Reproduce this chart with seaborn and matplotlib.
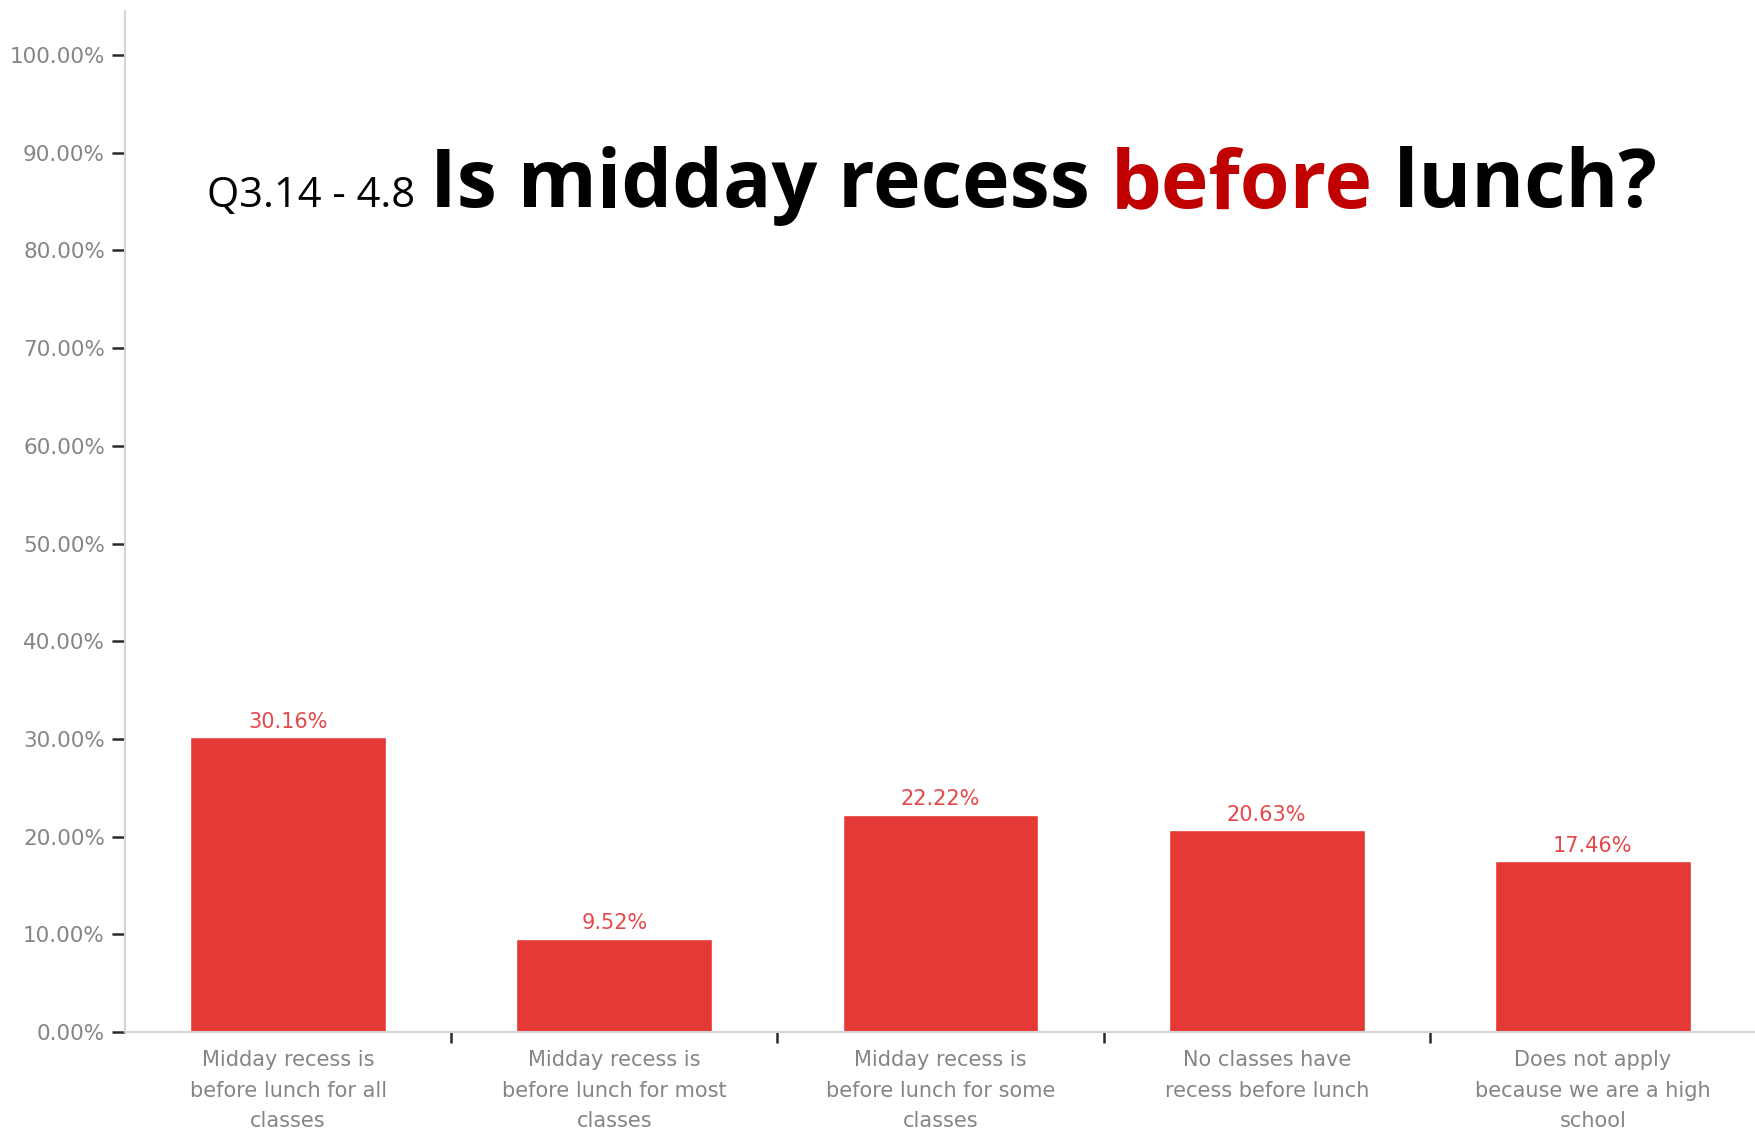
import matplotlib
matplotlib.use("Agg")
import matplotlib.pyplot as plt
import matplotlib.ticker as mticker
import seaborn as sns
import pandas as pd

# Survey responses: share of schools per answer
categories = [
    "Midday recess is\nbefore lunch for all\nclasses",
    "Midday recess is\nbefore lunch for most\nclasses",
    "Midday recess is\nbefore lunch for some\nclasses",
    "No classes have\nrecess before lunch",
    "Does not apply\nbecause we are a high\nschool",
]
percentages = [30.16, 9.52, 22.22, 20.63, 17.46]
y_ticks = [0, 10, 20, 30, 40, 50, 60, 70, 80, 90, 100]

title_prefix = "Q3.14 - 4.8"
title_parts = [("Is midday recess ", "black"), ("before", "#C00000"), (" lunch?", "black")]

sns.set_style("white")
plt.rcParams["font.family"] = ["DejaVu Sans"]

df = pd.DataFrame({"answer": categories, "pct": percentages})

fig = plt.figure(figsize=(17.56, 11.35), dpi=100)
ax = fig.add_axes([0.0712, 0.0907, 0.9288, 0.8996])

sns.barplot(data=df, x="answer", y="pct", color="#E53935", saturation=1,
            width=0.6, ax=ax)

ax.set_xlim(-0.5, len(categories) - 0.5)
ax.set_ylim(0, 104.5)
ax.set_xlabel("")
ax.set_ylabel("")

# value labels above bars
ax.bar_label(ax.containers[0], labels=[f"{v:.2f}%" for v in percentages],
             padding=4, color="#E5484B", fontsize=15)

# y axis
ax.set_yticks(y_ticks)
ax.yaxis.set_major_formatter(mticker.FuncFormatter(lambda v, p: f"{v:.2f}%"))
ax.tick_params(axis="y", which="major", length=9.5, width=1.8, color="#2a2a2a",
               labelcolor="#858585", labelsize=15.5, pad=5, left=True)

# x axis: labels at centers, tick marks between categories
ax.tick_params(axis="x", which="major", length=0, labelcolor="#858585",
               labelsize=15, pad=13)
for lbl in ax.get_xticklabels():
    lbl.set_linespacing(1.65)
ax.set_xticks([i + 0.5 for i in range(len(categories) - 1)], minor=True)
ax.tick_params(axis="x", which="minor", length=8, width=1.8, color="#2a2a2a",
               bottom=True)

for side in ["top", "right"]:
    ax.spines[side].set_visible(False)
for side in ["left", "bottom"]:
    ax.spines[side].set_color("#d4d4d4")
    ax.spines[side].set_linewidth(1.5)

# title assembled from coloured pieces sharing a baseline
fig.canvas.draw()
renderer = fig.canvas.get_renderer()
baseline = 1 - 207 / 1135
x = 207 / 1756
t = fig.text(x, baseline, title_prefix, fontsize=30, family="Open Sans",
             color="black", va="baseline", ha="left")
bb = t.get_window_extent(renderer)
x = (bb.x1 + 15) / fig.bbox.width
for text, col in title_parts:
    t = fig.text(x, baseline, text, fontsize=58, family="Open Sans",
                 weight="bold", color=col, va="baseline", ha="left")
    bb = t.get_window_extent(renderer)
    x = bb.x1 / fig.bbox.width

fig.savefig("out.png", dpi=100)
